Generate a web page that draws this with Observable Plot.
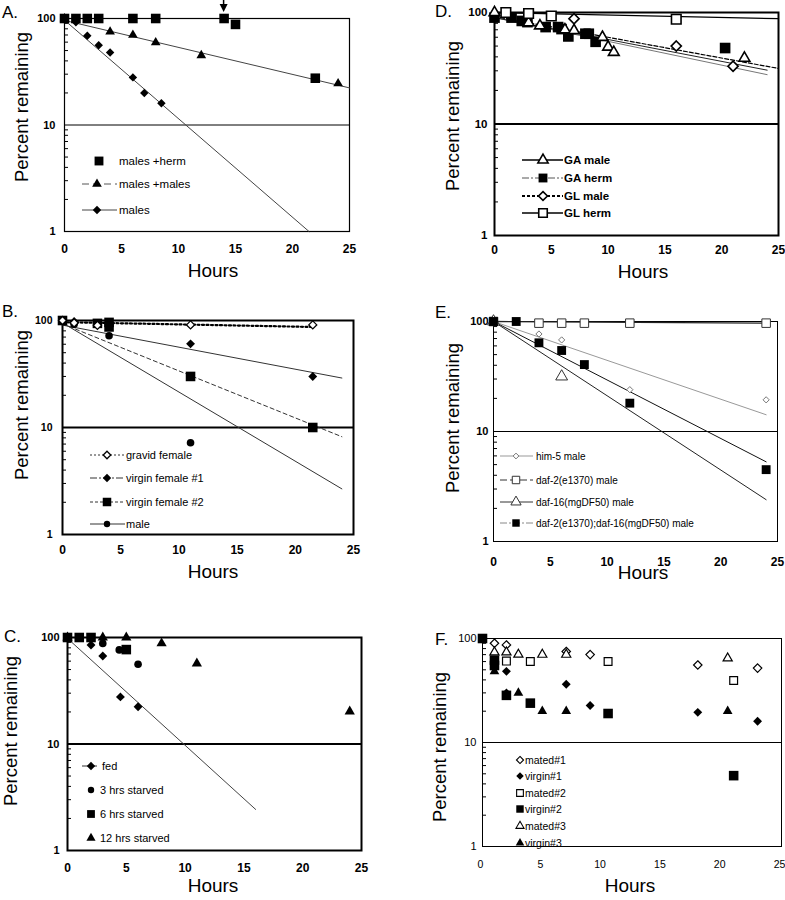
<!DOCTYPE html>
<html><head><meta charset="utf-8">
<script src="https://cdn.jsdelivr.net/npm/d3@7"></script>
<script src="https://cdn.jsdelivr.net/npm/@observablehq/plot@0.6"></script>
<style>
body{margin:0;background:#fff;}
#root{position:relative;width:785px;height:900px;overflow:hidden;background:#fff;font-family:"Liberation Sans",Arial,sans-serif;}
#root svg{position:absolute;}
</style></head><body><div id="root"></div>
<script>
// ---------- shared ticks ----------
const hourTicks = [0,5,10,15,20,25];
const pctTicks = [1,10,100];
const pctMinorTicks = [2,3,4,5,6,7,8,9,20,30,40,50,60,70,80,90];
const gridPct = [10];

// ---------- Panel A ----------
const aHermHours = [0,1,2,3,6,8,14,15,22];
const aHermPct   = [100,100,100,100,100,100,100,88,27.5];
const aMMHours   = [0,4,6,8,12,24];
const aMMPct     = [100,75,70,59.5,45,24.5];
const aMalesHours= [0,1,2,3,4,6,7,8.5];
const aMalesPct  = [100,92,69,56,48,28,20,16];
const aFitMMHours = [0,25],     aFitMMPct = [96,22.3];
const aFitMalesHours = [0,21.45], aFitMalesPct = [96.5,1];
const aArrowHour = 14;
const aLegend = ["males +herm","males +males","males"];

// ---------- Panel B ----------
const bGravidHours = [0,1,3,11,21.5];
const bGravidPct   = [100,95,90,91,91];
const bVirgin1Hours= [0,1,11,21.5];
const bVirgin1Pct  = [100,98,60.5,30];
const bVirgin2Hours= [0,3,4,4,11,21.5];
const bVirgin2Pct  = [100,94,96,87,30,10];
const bMaleHours   = [0,1,4,11];
const bMalePct     = [100,92,72,7.2];
const bFitGravidHours=[0,21.5], bFitGravidPct=[96.5,87];
const bFitV1Hours=[0,24], bFitV1Pct=[90.5,29];
const bFitV2Hours=[0,24], bFitV2Pct=[93,8.2];
const bFitMaleHours=[0,24], bFitMalePct=[95,2.67];
const bLegend = ["gravid female","virgin female #1","virgin female #2","male"];

// ---------- Panel C ----------
const cFedHours = [0,1,2,3,4.5,6];
const cFedPct   = [100,100,85,67,27.7,22.4];
const c3Hours   = [0,1,2,3,4.4,6];
const c3Pct     = [100,100,100,88,76.5,56];
const c6Hours   = [0,1,2,5];
const c6Pct     = [100,100,100,77];
const c12Hours  = [0,3,5,8,11,24];
const c12Pct    = [100,100,100,88,57,20.2];
const cFitFedHours=[0,16], cFitFedPct=[98,2.43];
const cLegend = ["fed","3 hrs starved","6 hrs starved","12 hrs starved"];

// ---------- Panel D ----------
const dGAMaleHours = [0,3,4,6.2,7,9.5,10,10.5,22];
const dGAMalePct   = [100,81,76,70,69,60,49,44,39];
const dGAHermHours = [0,1.5,2.4,2.9,4.5,5.6,5.9,6.5,8,8.3,8.9,20.3];
const dGAHermPct   = [90,90,84,82,74,74,71,61,64.5,64.5,54.6,48];
const dGLMaleHours = [7,16,21];
const dGLMalePct   = [88,50,33];
const dGLHermHours = [1,3,5,16];
const dGLHermPct   = [100,98,93,87];
const dFitGLHermHours=[0,25], dFitGLHermPct=[100,88];
const dFitGLMaleHours=[0,25], dFitGLMalePct=[92,31.5];
const dFitGAMaleHours=[0,24], dFitGAMalePct=[90,30.4];
const dFitGAHermHours=[0,24], dFitGAHermPct=[90,27.7];
const dLegend = ["GA male","GA herm","GL male","GL herm"];

// ---------- Panel E ----------
const eHim5Hours = [0,4,6,12,24];
const eHim5Pct   = [100,77,68,24,19.4];
const eDaf2Hours = [0,4,6,8,12,24];
const eDaf2Pct   = [100,96.6,96.6,96.6,96.6,96.6];
const eDaf16Hours= [0,6];
const eDaf16Pct  = [100,31.6];
const eDoubleHours=[0,2,4,6,8,12,24];
const eDoublePct = [100,100,64,54.5,40.6,18.1,4.5];
const eFitDaf2Hours=[0,24], eFitDaf2Pct=[100,96.6];
const eFitHim5Hours=[0,24], eFitHim5Pct=[100,14.2];
const eFitDoubleHours=[0,24], eFitDoublePct=[100,5.3];
const eFitDaf16Hours=[0,24], eFitDaf16Pct=[100,2.4];
const eLegend = ["him-5 male","daf-2(e1370) male","daf-16(mgDF50) male","daf-2(e1370);daf-16(mgDF50) male"];

// ---------- Panel F ----------
const fMated1Hours = [1,2,7,9,18,23];
const fMated1Pct   = [90,86.7,75,70,55.6,51.9];
const fVirgin1Hours= [2,2,7,9,18,23];
const fVirgin1Pct  = [48.3,30,36.3,22.7,19.5,16];
const fMated2Hours = [2,4,10.5,21];
const fMated2Pct   = [60.6,60,60,39.4];
const fVirgin2Hours= [0,1,1,2,4,10.5,21];
const fVirgin2Pct  = [100,62,55,28.4,23.9,19,4.8];
const fMated3Hours = [1,2,3,5,7,20.5];
const fMated3Pct   = [73.7,73.7,70.2,70,70,64.5];
const fVirgin3Hours= [1,3,5,7,20.5];
const fVirgin3Pct  = [48.3,30,20,20,20];
const fLegend = ["mated#1","virgin#1","mated#2","virgin#2","mated#3","virgin#3"];

// ---------- drawing ----------
const FONT = "Liberation Sans, Arial, Helvetica, sans-serif";
const NARROW = "Liberation Sans Narrow, Arial Narrow, Liberation Sans, sans-serif";
const root = document.getElementById("root");
const symbolMap = {square:d3.symbolSquare, triangle:d3.symbolTriangle, diamond:d3.symbolDiamond2, circle:d3.symbolCircle};

function makePanel(p) {
  const marks = [
    Plot.ruleY(gridPct, {stroke:"#000", strokeWidth:p.gridW}),
    Plot.axisX(hourTicks, {tickSize:0, tickPadding:p.xPad, dx:p.xdx||0, fontSize:p.xFont, fontWeight:p.weight, fontFamily:p.family||FONT, label:null}),
    Plot.axisY(pctTicks, {tickSize:0, tickPadding:p.yPad, tickFormat:d=>String(d), fontSize:p.yFont, fontWeight:p.weight, fontFamily:p.family||FONT, label:null}),
    Plot.axisY(pctMinorTicks, {tickSize:4, dx:4, tickFormat:()=>"", label:null, strokeWidth:1}),
    Plot.frame({stroke:"#000", strokeWidth:p.frameW}),
  ];
  for (const l of p.lines) marks.push(Plot.line(l.x, {x:l.x, y:l.y, stroke:l.stroke||"#222", strokeWidth:l.w||1, strokeDasharray:l.dash||null}));
  for (const d of p.dots) marks.push(Plot.dot(d.x, {x:d.x, y:d.y, symbol:symbolMap[d.symbol], r:d.r, fill:d.fill, stroke:d.stroke||"none", strokeWidth:d.sw||1}));
  const svg = Plot.plot({
    width:p.width, height:p.height,
    marginLeft:p.m[3], marginRight:p.m[1], marginTop:p.m[0], marginBottom:p.m[2],
    x:{domain:[0,25]}, y:{type:"log", domain:[1,100]},
    style:{background:"transparent", fontFamily:FONT, color:"#000", overflow:"visible"},
    marks
  });
  svg.style.left = p.left + "px";
  svg.style.top = p.top + "px";
  root.appendChild(svg);
  return svg;
}

const K="#000", W="#fff";
const pA = makePanel({left:0, top:0, width:390, height:300, m:[18,41,69,64], frameW:1.2, gridW:1, xPad:13, yPad:9, xFont:12, yFont:11, weight:"bold",
  lines:[{x:aFitMMHours,y:aFitMMPct,stroke:"#444"},{x:aFitMalesHours,y:aFitMalesPct,stroke:"#444"}],
  dots:[{x:aMMHours,y:aMMPct,symbol:"triangle",r:3.6,fill:K},{x:aMalesHours,y:aMalesPct,symbol:"diamond",r:3.8,fill:K},{x:aHermHours,y:aHermPct,symbol:"square",r:5.4,fill:K}]});

const pB = makePanel({left:0, top:300, width:390, height:300, m:[20,37,66,62], frameW:2, gridW:2, xPad:11, yPad:10, xFont:12, yFont:10.5, weight:"bold",
  lines:[{x:bFitGravidHours,y:bFitGravidPct,stroke:K,w:2.2,dash:"2,2.5"},{x:bFitV1Hours,y:bFitV1Pct,stroke:"#333"},{x:bFitV2Hours,y:bFitV2Pct,stroke:"#333",dash:"4,3"},{x:bFitMaleHours,y:bFitMalePct,stroke:"#333"}],
  dots:[{x:bVirgin2Hours,y:bVirgin2Pct,symbol:"square",r:5.4,fill:K},{x:bMaleHours,y:bMalePct,symbol:"circle",r:3.8,fill:K},{x:bVirgin1Hours,y:bVirgin1Pct,symbol:"diamond",r:4,fill:K},{x:bGravidHours,y:bGravidPct,symbol:"diamond",r:3.6,fill:W,stroke:K,sw:1.3}]});

const pC = makePanel({left:0, top:590, width:390, height:310, m:[47,29,50,67], frameW:2, gridW:2, xPad:13, yPad:8, xFont:12, yFont:11, weight:"bold",
  lines:[{x:cFitFedHours,y:cFitFedPct,stroke:"#444"}],
  dots:[{x:c12Hours,y:c12Pct,symbol:"triangle",r:3.8,fill:K},{x:c6Hours,y:c6Pct,symbol:"square",r:5.4,fill:K},{x:c3Hours,y:c3Pct,symbol:"circle",r:3.8,fill:K},{x:cFedHours,y:cFedPct,symbol:"diamond",r:4,fill:K}]});

const pD = makePanel({left:390, top:0, width:395, height:300, m:[12,7,65,104], frameW:2, gridW:2, xPad:10, yPad:7, xFont:12, yFont:11.5, weight:"bold",
  lines:[{x:dFitGLHermHours,y:dFitGLHermPct,stroke:K,w:1.3},{x:dFitGAHermHours,y:dFitGAHermPct,stroke:"#777",w:1},{x:dFitGAMaleHours,y:dFitGAMalePct,stroke:"#222",w:1},{x:dFitGLMaleHours,y:dFitGLMalePct,stroke:K,w:1.2,dash:"4,2"}],
  dots:[{x:dGAHermHours,y:dGAHermPct,symbol:"square",r:6,fill:K},{x:dGAMaleHours,y:dGAMalePct,symbol:"triangle",r:4,fill:W,stroke:K,sw:1.6},{x:dGLMaleHours,y:dGLMalePct,symbol:"diamond",r:4.6,fill:W,stroke:K,sw:1.6},{x:dGLHermHours,y:dGLHermPct,symbol:"square",r:5.4,fill:W,stroke:K,sw:1.6}]});

const pE = makePanel({left:390, top:300, width:395, height:300, m:[21,8,59,103], frameW:1, gridW:1, xPad:16, yPad:5, xFont:12, yFont:11, weight:"bold",
  lines:[{x:eFitDaf2Hours,y:eFitDaf2Pct,stroke:"#222",w:1.3},{x:eFitHim5Hours,y:eFitHim5Pct,stroke:"#999",w:1},{x:eFitDoubleHours,y:eFitDoublePct,stroke:"#111",w:1},{x:eFitDaf16Hours,y:eFitDaf16Pct,stroke:"#222",w:1}],
  dots:[{x:eDaf2Hours,y:eDaf2Pct,symbol:"square",r:4.8,fill:W,stroke:"#333",sw:1},{x:eDaf16Hours,y:eDaf16Pct,symbol:"triangle",r:4.4,fill:W,stroke:"#333",sw:1},{x:eHim5Hours,y:eHim5Pct,symbol:"diamond",r:2.8,fill:W,stroke:"#777",sw:1},{x:eDoubleHours,y:eDoublePct,symbol:"square",r:5,fill:K}]});

const pF = makePanel({left:390, top:590, width:395, height:310, m:[48,4,54,92], frameW:1, gridW:1, xPad:14, xdx:-2, yPad:6, xFont:10.5, yFont:11, weight:"normal", family:NARROW,
  lines:[],
  dots:[{x:fMated1Hours,y:fMated1Pct,symbol:"diamond",r:3.8,fill:W,stroke:K,sw:1.2},{x:fMated3Hours,y:fMated3Pct,symbol:"triangle",r:3.4,fill:W,stroke:K,sw:1.2},{x:fMated2Hours,y:fMated2Pct,symbol:"square",r:4.4,fill:W,stroke:K,sw:1.2},{x:fVirgin2Hours,y:fVirgin2Pct,symbol:"square",r:5.4,fill:K},{x:fVirgin3Hours,y:fVirgin3Pct,symbol:"triangle",r:3.6,fill:K},{x:fVirgin1Hours,y:fVirgin1Pct,symbol:"diamond",r:4,fill:K}]});

// ---------- overlay: letters, titles, legends, arrow ----------
const ov = d3.select(root).append("svg").attr("width",785).attr("height",900).style("left","0px").style("top","0px")
  .attr("font-family",FONT);

const letters = [["A.",2,18],["B.",2,317],["C.",4,642],["D.",435,17],["E.",435,318],["F.",435,645]];
for (const [t,x,y] of letters) ov.append("text").attr("x",x).attr("y",y).attr("font-size",17).text(t);

const hoursPos = [[213,277],[213,578],[213,892],[643,278],[643,579],[630,892]];
for (const [x,y] of hoursPos) ov.append("text").attr("x",x).attr("y",y).attr("text-anchor","middle").attr("font-size",19).text("Hours");
const pctPos = [[22,107],[22,405],[11,731],[453,116],[453,418],[440,747]];
for (const [x,y] of pctPos) ov.append("text").attr("transform",`translate(${x},${y}) rotate(-90)`).attr("text-anchor","middle").attr("dy","0.35em").attr("font-size",18.5).text("Percent remaining");

// arrow in A at 14 h
const ax = pA.scale("x").apply(aArrowHour);
ov.append("line").attr("x1",ax).attr("x2",ax).attr("y1",0).attr("y2",6).attr("stroke",K).attr("stroke-width",1.5);
ov.append("path").attr("d",`M${ax-4},4L${ax+4},4L${ax},12Z`).attr("fill",K);

function legend(items, o) {
  items.forEach((it,i)=>{
    const y = o.ys[i];
    if (it.line) ov.append("line").attr("x1",o.lx0).attr("x2",o.lx1).attr("y1",y).attr("y2",y)
      .attr("stroke",it.lineColor||"#333").attr("stroke-width",it.lw||1).attr("stroke-dasharray",it.dash||null);
    ov.append("path").attr("transform",`translate(${it.sx||o.sx},${y})`)
      .attr("d",d3.symbol(symbolMap[it.symbol], Math.PI*it.r*it.r)())
      .attr("fill",it.fill).attr("stroke",it.stroke||"none").attr("stroke-width",it.sw||1);
    ov.append("text").attr("x",it.tx||o.tx).attr("y",y).attr("dy","0.35em").attr("font-size",o.fs)
      .attr("font-weight",o.weight||"normal").attr("font-family",o.family||FONT).text(o.labels[i]);
  });
}
legend([
  {symbol:"square",r:5,fill:K,sx:99},
  {symbol:"triangle",r:3.6,fill:K,line:true,dash:"7,4",lineColor:"#555"},
  {symbol:"diamond",r:3.8,fill:K,line:true,lineColor:"#444"}
], {ys:[161,184,210], lx0:82, lx1:117, sx:97, tx:119, fs:11.5, labels:aLegend});
legend([
  {symbol:"diamond",r:3.4,fill:W,stroke:K,sw:1.3,line:true,dash:"2,2"},
  {symbol:"diamond",r:3.8,fill:K,line:true,dash:"7,2,2,2"},
  {symbol:"square",r:4.8,fill:K,line:true,dash:"3,2"},
  {symbol:"circle",r:3.2,fill:K,line:true}
], {ys:[455,478,502,524], lx0:90, lx1:125, sx:107, tx:126, fs:11, labels:bLegend});
legend([
  {symbol:"diamond",r:3.8,fill:K,line:true,tx:102},
  {symbol:"circle",r:3.2,fill:K},
  {symbol:"square",r:4.4,fill:K},
  {symbol:"triangle",r:3.4,fill:K}
], {ys:[766,790,814,838], lx0:82, lx1:97, sx:91, tx:100, fs:11, labels:cLegend});
legend([
  {symbol:"triangle",r:3.8,fill:W,stroke:K,sw:1.6,line:true,lw:1.6,lineColor:K},
  {symbol:"square",r:5,fill:K,line:true,dash:"7,2,2,2",lineColor:"#555"},
  {symbol:"diamond",r:4,fill:W,stroke:K,sw:1.6,line:true,lw:1.8,dash:"3,2",lineColor:K},
  {symbol:"square",r:4.8,fill:W,stroke:K,sw:1.6,line:true,lw:1.6,lineColor:K}
], {ys:[160,178,196,213], lx0:522, lx1:563, sx:543, tx:564, fs:11.5, weight:"bold", labels:dLegend});
legend([
  {symbol:"diamond",r:2.6,fill:W,stroke:"#777",line:true,lineColor:"#999"},
  {symbol:"square",r:4.2,fill:W,stroke:"#333",line:true,dash:"7,3"},
  {symbol:"triangle",r:3.8,fill:W,stroke:"#333",line:true},
  {symbol:"square",r:4.2,fill:K,line:true,dash:"7,2,2,2",lineColor:"#888"}
], {ys:[456,480,502,523], lx0:500, lx1:533, sx:516, tx:536, fs:10, labels:eLegend});
legend([
  {symbol:"diamond",r:3.2,fill:W,stroke:K,sw:1.1},
  {symbol:"diamond",r:3.4,fill:K},
  {symbol:"square",r:3.8,fill:W,stroke:K,sw:1.1},
  {symbol:"square",r:4.2,fill:K},
  {symbol:"triangle",r:3,fill:W,stroke:K,sw:1.1},
  {symbol:"triangle",r:3.2,fill:K}
], {ys:[760,776,793,809,826,843], sx:520, tx:525, fs:10.5, family:NARROW, labels:fLegend});
</script></body></html>
